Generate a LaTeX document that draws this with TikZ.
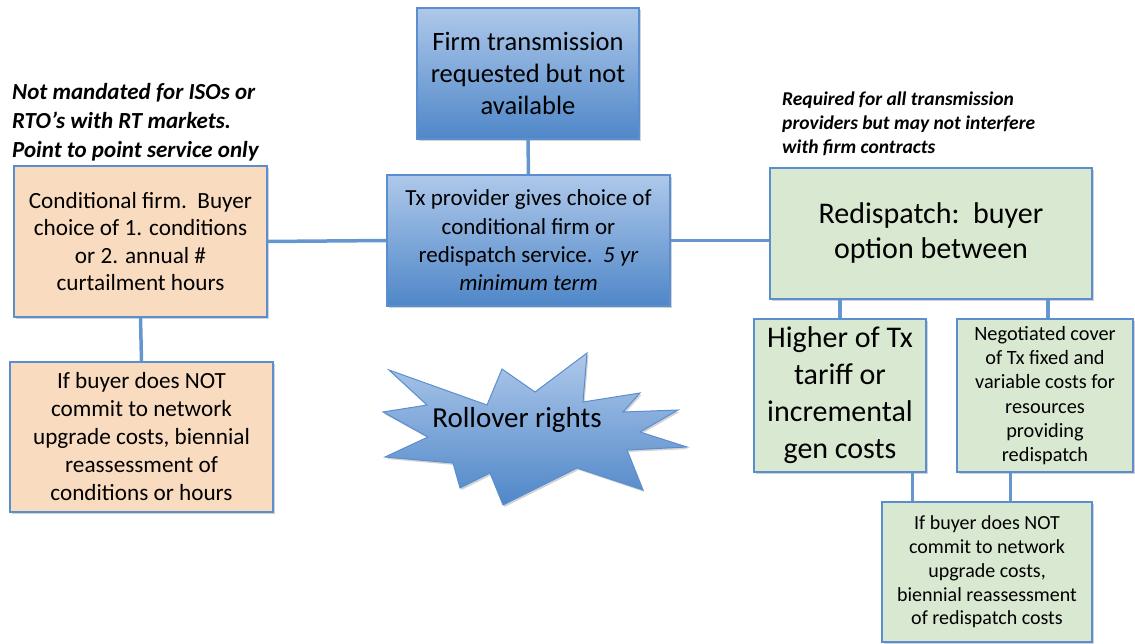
\documentclass[tikz,border=0pt]{standalone}
\usepackage{fontspec}
\setmainfont{Carlito}
\usetikzlibrary{shadows,calc}
\definecolor{bluetop}{HTML}{AEC8EA}
\definecolor{bluebot}{HTML}{4F87C8}
\definecolor{bluebd}{HTML}{5B8ECF}
\definecolor{peach}{HTML}{F9DBC0}
\definecolor{greenf}{HTML}{D9E9D1}
\definecolor{linkc}{HTML}{6596D0}
\tikzset{
  box/.style={draw=bluebd, line width=1.2pt, align=center, inner sep=2pt,
    drop shadow={shadow xshift=1.5pt, shadow yshift=-2pt, opacity=0.35}},
  bluebox/.style={box, top color=bluetop, bottom color=bluebot},
  peachbox/.style={box, fill=peach},
  greenbox/.style={box, fill=greenf},
  link/.style={draw=linkc, line width=3.5pt},
  note/.style={align=left, inner sep=0pt}
}
\begin{document}
\begin{tikzpicture}[x=1pt,y=-1pt]
\useasboundingbox (0,0) rectangle (1135,644);
% boxes
\node[bluebox, minimum width=222pt, minimum height=131pt, font=\fontsize{26.5}{32}\selectfont] (top) at (528,73.5)
  {Firm transmission\\ requested but not\\ available};
\node[bluebox, minimum width=283pt, minimum height=131pt, font=\fontsize{23}{28.3}\selectfont] (mid) at (528.5,240.5)
  {Tx provider gives choice of\\ conditional firm or\\ redispatch service.\ \ \textit{5 yr}\\ \textit{minimum term}};
\node[peachbox, minimum width=253pt, minimum height=151pt, font=\fontsize{23.2}{27.5}\selectfont] (cond) at (140.5,241.5)
  {Conditional firm.\ \ Buyer\\ choice of 1. conditions\\ or 2. annual \#\\ curtailment hours};
\node[peachbox, minimum width=263pt, minimum height=150pt, font=\fontsize{23.2}{28}\selectfont] (condlow) at (141.5,437)
  {If buyer does NOT\\ commit to network\\ upgrade costs, biennial\\ reassessment of\\ conditions or hours};
\node[greenbox, minimum width=322pt, minimum height=131pt, font=\fontsize{30}{35}\selectfont] (redisp) at (931,233.5)
  {Redispatch:\ \ buyer\\ option between};
\node[greenbox, minimum width=172pt, minimum height=153pt, font=\fontsize{30}{37}\selectfont] (higher) at (840,395.5)
  {Higher of Tx\\ tariff or\\ incremental\\ gen costs};
\node[greenbox, minimum width=176pt, minimum height=153pt, font=\fontsize{20.3}{24.3}\selectfont] (neg) at (1045,395.5)
  {Negotiated cover\\ of Tx fixed and\\ variable costs for\\ resources\\ providing\\ redispatch};
\node[greenbox, minimum width=210pt, minimum height=140pt, font=\fontsize{20}{23.7}\selectfont] (bot) at (987,572)
  {If buyer does NOT\\ commit to network\\ upgrade costs,\\ biennial reassessment\\ of redispatch costs};
% notes
\node[note, anchor=west, font=\fontsize{23}{29}\selectfont\bfseries\itshape] (lnote) at (12,122)
  {Not mandated for ISOs or\\ RTO’s with RT markets.\\ Point to point service only};
\node[note, anchor=west, font=\fontsize{19.5}{24}\selectfont\bfseries\itshape] (rnote) at (782,124)
  {Required for all transmission\\ providers but may not interfere\\ with firm contracts};
% starburst
\shade[top color=bluetop, bottom color=bluebot, draw=bluebd, line width=1pt,
  drop shadow={shadow xshift=1.5pt, shadow yshift=-2pt, opacity=0.35}]
  (389,370) -- (487,405) -- (502,369) -- (535,392) -- (587,353) -- (583,402)
  -- (640,393) -- (623,412) -- (678,410) -- (640,432) -- (687,447) -- (627,450)
  -- (643,490) -- (577,468) -- (503,505) -- (490,473) -- (460,488) -- (453,463)
  -- (385,457) -- (428,437) -- (383,412) -- (427,405) -- cycle;
\node[inner sep=0pt, font=\fontsize{29}{34}\selectfont] (roll) at (517,420) {Rollover rights};
% connectors
\path[link] (top.south) -- (mid.north);
\path[link] (cond.east) -- (mid.west);
\path[link] (mid.east) -- (mid.east -| redisp.west);
\path[link] (cond.south) -- (condlow.north);
\path[link] (higher.north) -- (higher.north |- redisp.south);
\path[link] ([xshift=3pt]neg.north) -- ([xshift=3pt]neg.north |- redisp.south);
\path[link] ([xshift=-14pt]higher.south east) -- ([xshift=-14pt]higher.south east |- bot.north);
\path[link] ([xshift=54pt]neg.south west) -- ([xshift=54pt]neg.south west |- bot.north);
\end{tikzpicture}
\end{document}
